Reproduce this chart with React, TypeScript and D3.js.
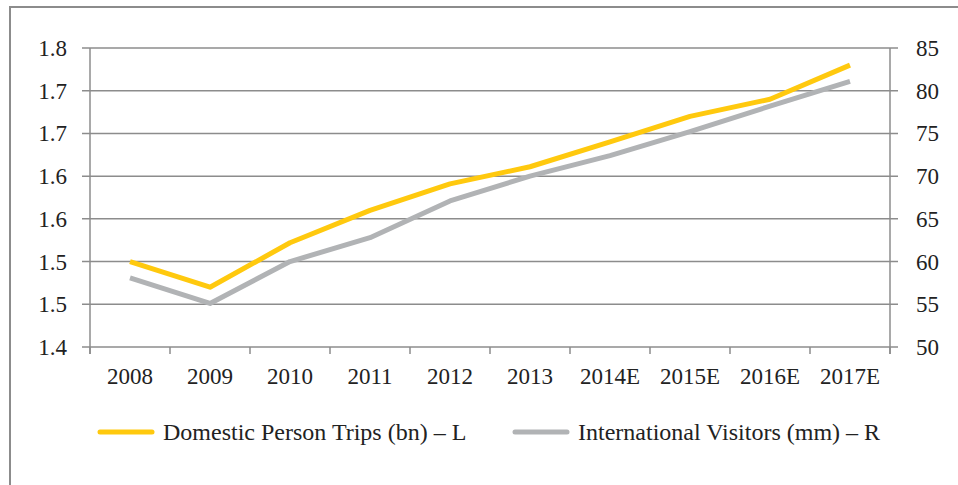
import React, { useRef, useEffect } from 'react';
import * as d3 from 'd3';

const years = ['2008', '2009', '2010', '2011', '2012', '2013', '2014E', '2015E', '2016E', '2017E'];
const domesticTrips = [1.5, 1.47, 1.522, 1.56, 1.591, 1.611, 1.64, 1.67, 1.69, 1.73];
const intlVisitors = [58.1, 55.1, 60, 62.8, 67.1, 70, 72.4, 75.2, 78.2, 81.1];
const leftTicks = [1.4, 1.45, 1.5, 1.55, 1.6, 1.65, 1.7, 1.75];
const leftTickLabels = ['1.4', '1.5', '1.5', '1.6', '1.6', '1.7', '1.7', '1.8'];
const rightTicks = [50, 55, 60, 65, 70, 75, 80, 85];
const legendLabels = ['Domestic Person Trips (bn) – L', 'International Visitors (mm) – R'];

const YELLOW = '#FFC90E';
const GREY = '#B1B3B5';
const AXIS = '#8C8C8C';

export default function App() {
  const svgRef = useRef<SVGSVGElement>(null);

  useEffect(() => {
    const svg = d3.select(svgRef.current);
    svg.selectAll('*').remove();

    const width = 958;
    const height = 485;
    const margin = { top: 48, right: 68, bottom: 138, left: 90 };
    const font = "'Liberation Serif', 'DejaVu Serif', Times, serif";

    svg.attr('width', width).attr('height', height)
      .style('font-family', font)
      .style('position', 'absolute').style('left', '0px').style('top', '0px');

    // outer frame
    svg.append('rect')
      .attr('x', 10).attr('y', 7)
      .attr('width', 960).attr('height', 500)
      .attr('fill', 'none')
      .attr('stroke', AXIS)
      .attr('stroke-width', 2);

    const x = d3.scaleBand().domain(years).range([margin.left, width - margin.right]);
    const yL = d3.scaleLinear().domain([1.4, 1.75]).range([height - margin.bottom, margin.top]);
    const yR = d3.scaleLinear().domain([50, 85]).range([height - margin.bottom, margin.top]);

    const x0 = margin.left;
    const x1 = width - margin.right;
    const yBottom = height - margin.bottom;

    // gridlines (also the tick marks on both sides)
    svg.append('g')
      .selectAll('line')
      .data(leftTicks)
      .enter()
      .append('line')
      .attr('x1', x0 - 8).attr('x2', x1 + 8)
      .attr('y1', d => yL(d)).attr('y2', d => yL(d))
      .attr('stroke', AXIS)
      .attr('stroke-width', 1.5);

    // vertical axes
    svg.append('line').attr('x1', x0).attr('x2', x0).attr('y1', margin.top).attr('y2', yBottom + 7)
      .attr('stroke', AXIS).attr('stroke-width', 1.5);
    svg.append('line').attr('x1', x1).attr('x2', x1).attr('y1', margin.top).attr('y2', yBottom + 7)
      .attr('stroke', AXIS).attr('stroke-width', 1.5);

    // x ticks at category boundaries
    const bounds = years.map(d => x(d) as number).concat([x1]);
    svg.append('g')
      .selectAll('line')
      .data(bounds)
      .enter()
      .append('line')
      .attr('x1', d => d).attr('x2', d => d)
      .attr('y1', yBottom).attr('y2', yBottom + 7)
      .attr('stroke', AXIS)
      .attr('stroke-width', 1.5);

    // left tick labels
    svg.append('g')
      .selectAll('text')
      .data(leftTicks)
      .enter()
      .append('text')
      .attr('x', 67)
      .attr('y', d => yL(d))
      .attr('dy', '0.35em')
      .attr('text-anchor', 'end')
      .attr('font-size', 23)
      .attr('fill', '#222')
      .text((d, i) => leftTickLabels[i]);

    // right tick labels
    svg.append('g')
      .selectAll('text')
      .data(rightTicks)
      .enter()
      .append('text')
      .attr('x', 916)
      .attr('y', d => yR(d))
      .attr('dy', '0.35em')
      .attr('text-anchor', 'start')
      .attr('font-size', 23)
      .attr('fill', '#222')
      .text(d => d);

    // x labels
    svg.append('g')
      .selectAll('text')
      .data(years)
      .enter()
      .append('text')
      .attr('x', d => (x(d) as number) + x.bandwidth() / 2)
      .attr('y', 384)
      .attr('text-anchor', 'middle')
      .attr('font-size', 23)
      .attr('fill', '#222')
      .text(d => d);

    const cx = (d: string) => (x(d) as number) + x.bandwidth() / 2;

    const lineL = d3.line<number>().x((d, i) => cx(years[i])).y(d => yL(d));
    const lineR = d3.line<number>().x((d, i) => cx(years[i])).y(d => yR(d));

    svg.append('path')
      .attr('d', lineR(intlVisitors))
      .attr('fill', 'none')
      .attr('stroke', GREY)
      .attr('stroke-width', 5)
      .attr('stroke-linejoin', 'round');

    svg.append('path')
      .attr('d', lineL(domesticTrips))
      .attr('fill', 'none')
      .attr('stroke', YELLOW)
      .attr('stroke-width', 5)
      .attr('stroke-linejoin', 'round');

    // legend
    const legend = [
      { label: legendLabels[0], color: YELLOW, lx: 100, tx: 163 },
      { label: legendLabels[1], color: GREY, lx: 515, tx: 578 },
    ];
    const lg = svg.append('g');
    legend.forEach(l => {
      lg.append('line')
        .attr('x1', l.lx).attr('x2', l.lx + 52)
        .attr('y1', 432).attr('y2', 432)
        .attr('stroke', l.color)
        .attr('stroke-width', 5)
        .attr('stroke-linecap', 'round');
      lg.append('text')
        .attr('x', l.tx)
        .attr('y', 440)
        .attr('font-size', 24)
        .attr('fill', '#222')
        .text(l.label);
    });
  }, []);

  return <svg ref={svgRef}></svg>;
}
